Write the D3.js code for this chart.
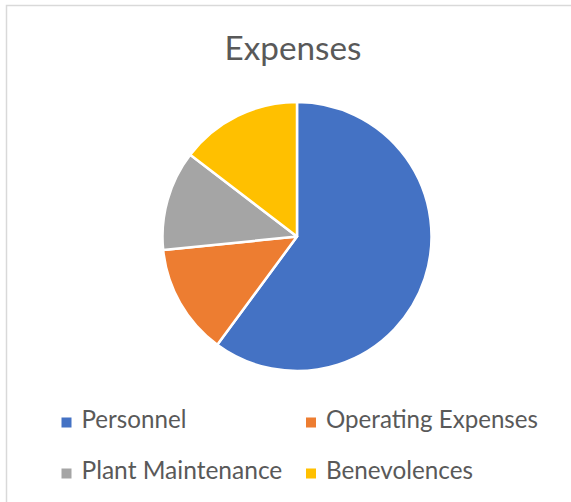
<!DOCTYPE html>
<html><head><meta charset="utf-8">
<script src="https://cdn.jsdelivr.net/npm/d3@7"></script>
<style>body{margin:0;background:#fff}svg{display:block}</style>
</head><body>
<script>
const categories = ["Personnel", "Operating Expenses", "Plant Maintenance", "Benevolences"];
const values = [60.1, 13.3, 12.0, 14.6];
const colors = ["#4472C4", "#ED7D31", "#A5A5A5", "#FFC000"];
const title = "Expenses";

const W = 571, H = 502;
const svg = d3.select("body").append("svg").attr("width", W).attr("height", H);
svg.append("rect").attr("width", W).attr("height", H).attr("fill", "#fff");
// border
svg.append("path").attr("d", `M6.5,${H+2} V5.5 H${W+2}`).attr("fill", "none").attr("stroke", "#d9d9d9").attr("stroke-width", 1.5);

const font = "Lato, 'Open Sans', sans-serif";
function fitText(sel, target) {
  const w = sel.node().getComputedTextLength();
  const fs = parseFloat(sel.attr("font-size"));
  sel.attr("font-size", fs * target / w);
}

const t = svg.append("text").attr("x", 293).attr("y", 60).attr("text-anchor", "middle")
  .attr("font-family", font).attr("font-size", 28).attr("fill", "#595959").text(title);
fitText(t, 137);

const cx = 297, cy = 236.5, r = 134.5;
const pie = d3.pie().sort(null).value(d => d)(values);
const arc = d3.arc().innerRadius(0).outerRadius(r);
const color = d3.scaleOrdinal().domain(categories).range(colors);
svg.append("g").attr("transform", `translate(${cx},${cy})`)
  .selectAll("path").data(pie).join("path")
  .attr("d", arc).attr("fill", (d, i) => color(categories[i]))
  .attr("stroke", "#fff").attr("stroke-width", 2.5).attr("stroke-linejoin", "round");

// legend
const pos = [[61.5, 428], [306, 428], [61.5, 479], [306, 479]];
const targets = [105, 212, 201, 147];
const lg = svg.append("g");
categories.forEach((c, i) => {
  const [x, y] = pos[i];
  lg.append("rect").attr("x", x).attr("y", y - 10.5).attr("width", 10).attr("height", 10).attr("fill", color(c));
  const tx = lg.append("text").attr("x", x + 20).attr("y", y).attr("font-family", font)
    .attr("font-size", 21).attr("fill", "#595959").text(c);
  fitText(tx, targets[i]);
});
</script>
</body></html>
